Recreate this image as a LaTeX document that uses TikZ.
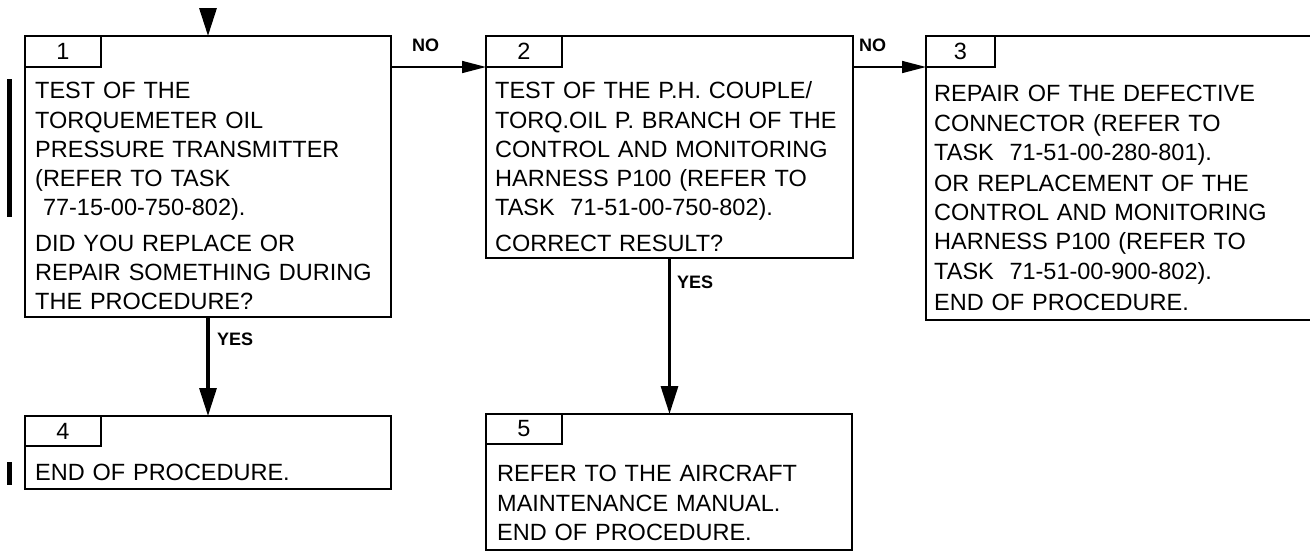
\documentclass[tikz,border=0pt]{standalone}
\usepackage{fontspec}
\setmainfont{Liberation Sans}
\usepackage{tikz}
\usetikzlibrary{arrows.meta,positioning,calc}

\begin{document}
\begin{tikzpicture}[
  x=1pt, y=-1pt,
  box/.style={draw, line width=2.4pt, anchor=north west, inner sep=0pt, outer sep=0pt},
  tag/.style={draw, line width=2.4pt, anchor=north west, inner sep=0pt, outer sep=0pt, minimum width=76pt, minimum height=31pt, font=\fontsize{23.5}{28}\selectfont},
  txt/.style={anchor=north west, inner sep=0pt, align=left, text width=360pt, font=\fontsize{23.5}{29.3}\selectfont},
  lbl/.style={anchor=west, inner sep=0pt, font=\fontsize{18}{20}\selectfont\bfseries},
  noarr/.style={-{Triangle[length=24pt, width=12pt]}, line width=1.6pt},
  yesarr/.style={-{Triangle[length=28pt, width=17pt]}, line width=3.2pt}
]
\useasboundingbox (0,0) rectangle (1310,552);
% boxes
\node[box, minimum width=366pt, minimum height=281pt] (b1) at (25,36) {};
\node[box, minimum width=367pt, minimum height=222pt] (b2) at (486,36) {};
\node[box, minimum width=392pt, minimum height=284pt] (b3) at (926,36) {};
\node[box, minimum width=366pt, minimum height=73pt] (b4) at (25,416) {};
\node[box, minimum width=366pt, minimum height=136pt] (b5) at (486,414) {};
% step numbers
\node[tag] (tag1) at (b1.north west) {1};
\node[tag] (tag2) at (b2.north west) {2};
\node[tag, minimum width=69pt] (tag3) at (b3.north west) {3};
\node[tag, minimum height=30pt] (tag4) at (b4.north west) {4};
\node[tag, minimum height=30pt] (tag5) at (b5.north west) {5};
% texts
\node[txt] (t1) at (35,78) {\strut TEST OF THE\\TORQUEMETER OIL\\PRESSURE TRANSMITTER\\(REFER TO TASK\\\ 77-15-00-750-802).\\[6pt]DID YOU REPLACE OR\\REPAIR SOMETHING DURING\\THE PROCEDURE?};
\node[txt] (t2) at (495,78) {\strut TEST OF THE P.H. COUPLE/\\TORQ.OIL P. BRANCH OF THE\\CONTROL AND MONITORING\\HARNESS P100 (REFER TO\\TASK~~71-51-00-750-802).\\[6pt]CORRECT RESULT?};
\node[txt] (t3) at (934,81) {\strut REPAIR OF THE DEFECTIVE\\CONNECTOR (REFER TO\\TASK~~71-51-00-280-801).\\[1.5pt]OR REPLACEMENT OF THE\\CONTROL AND MONITORING\\HARNESS P100 (REFER TO\\TASK~~71-51-00-900-802).\\[2.5pt]END OF PROCEDURE.};
\node[txt] (t4) at (35,460) {\strut END OF PROCEDURE.};
\node[txt] (t5) at (497,461) {\strut REFER TO THE AIRCRAFT\\MAINTENANCE MANUAL.\\END OF PROCEDURE.};
% connectors
\coordinate (in1) at (208,8);
\draw[yesarr] (in1) -- (b1.north);
\draw[noarr] (b1.east |- tag2.south west) -- (tag2.south west);
\draw[noarr] (b2.east |- tag3.south west) -- (tag3.south west);
\draw[yesarr] (b1.south) -- (b4.north);
\draw[yesarr] (b2.south) -- (b2.south |- b5.north);
% labels
\node[lbl] (no1) at (412,45) {NO};
\node[lbl] (no2) at (859,45) {NO};
\node[lbl] (yes1) at (217,339) {YES};
\node[lbl] (yes2) at (677,282) {YES};
% change bars
\fill (7,79) rectangle (12,217);
\fill (7,462) rectangle (12,485);
\end{tikzpicture}
\end{document}
